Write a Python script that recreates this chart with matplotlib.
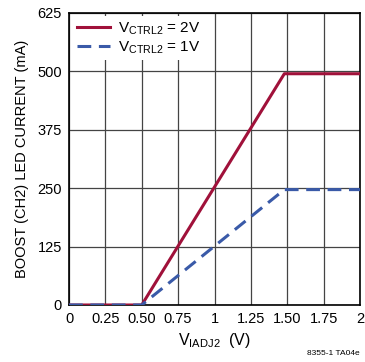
import matplotlib
matplotlib.use("Agg")
import matplotlib.pyplot as plt

plt.rcParams["font.family"] = ["Liberation Sans Narrow", "Liberation Sans", "DejaVu Sans"]
plt.rcParams["mathtext.fontset"] = "custom"
plt.rcParams["mathtext.rm"] = "Liberation Sans"

# Data
v_iadj = [0, 0.5, 1.48, 2.0]
i_ctrl_2v = [0, 0, 495, 495]
i_ctrl_1v = [0, 0, 247, 247]

x_ticks = [0, 0.25, 0.5, 0.75, 1, 1.25, 1.5, 1.75, 2]
x_labels = ["0", "0.25", "0.50", "0.75", "1", "1.25", "1.50", "1.75", "2"]
y_ticks = [0, 125, 250, 375, 500, 625]

fig = plt.figure(figsize=(3.65, 3.62), dpi=100)
ax = fig.add_axes([69 / 365, 57 / 362, 291 / 365, 292 / 362])

ax.plot(v_iadj, i_ctrl_2v, color="#a0113a", linewidth=2.2,
        label=r"V$_{\mathrm{CTRL2}}$ = 2V", zorder=3)
ax.plot(v_iadj, i_ctrl_1v, color="#3a5aa8", linewidth=2.2, linestyle=(0, (4.5, 2.5)),
        label=r"V$_{\mathrm{CTRL2}}$ = 1V", zorder=3)

ax.set_xlim(0, 2)
ax.set_ylim(0, 625)
ax.set_xticks(x_ticks)
ax.set_xticklabels(x_labels)
ax.set_yticks(y_ticks)
ax.tick_params(length=0, labelsize=10.5, pad=5)
ax.grid(True, color="#444444", linewidth=0.9)
for s in ax.spines.values():
    s.set_linewidth(1.2)

ax.set_xlabel(r"V$_{\mathrm{IADJ2}}$  (V)", fontsize=11.5, labelpad=4)
ax.set_ylabel("BOOST (CH2) LED CURRENT (mA)", fontsize=10.5, labelpad=6)

leg = ax.legend(loc="upper left", fontsize=11, frameon=True, fancybox=False,
                edgecolor="none", framealpha=1, handlelength=2.2,
                borderaxespad=0.2, labelspacing=0.1, borderpad=0.3, handletextpad=0.5)

fig.text(0.985, 0.015, "8355-1 TA04e", ha="right", va="bottom", fontsize=6)

fig.savefig("out.png", dpi=100)
